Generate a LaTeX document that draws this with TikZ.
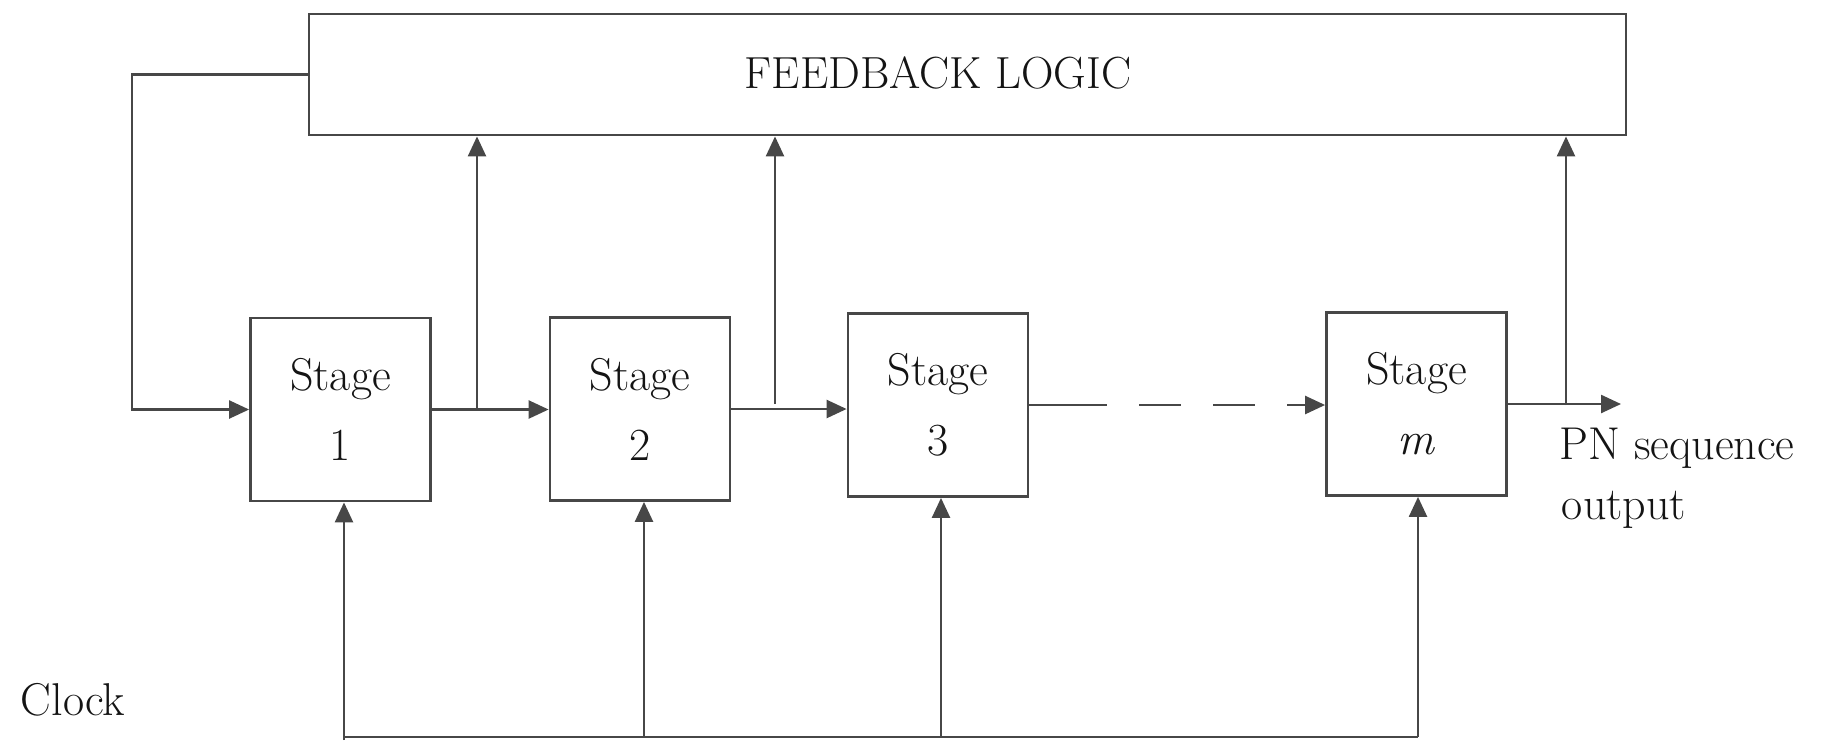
\documentclass[tikz,border=0pt]{standalone}
\usetikzlibrary{arrows.meta,calc}
\definecolor{ln}{gray}{0.28}
\definecolor{tx}{gray}{0.08}
\begin{document}
\begin{tikzpicture}[x=1pt,y=-1pt,
  box/.style={draw=ln,line width=2.8pt,fill=white,inner sep=0pt},
  stagebox/.style={box,minimum width=180pt,minimum height=183pt,align=center,
    text=tx,font=\fontsize{46}{70}\selectfont},
  conn/.style={draw=ln,line width=2.4pt},
  arr/.style={conn,-{Triangle[length=20pt,width=18pt]}},
  lbl/.style={inner sep=0pt,text=tx,font=\fontsize{46}{55}\selectfont}]
\useasboundingbox (0,0) rectangle (1827,740);
\fill[white] (0,0) rectangle (1827,740);
% feedback logic
\node[box,minimum width=1317pt,minimum height=121pt] (fb) at (967.5,74.5) {};
\node[lbl,font=\fontsize{45}{55}\selectfont] (fbt) at (938,73) {FEEDBACK LOGIC};
% stages
\node[stagebox] (s1) at (340.5,409.5) {Stage\\1};
\node[stagebox] (s2) at (640,409) {Stage\\2};
\node[stagebox] (s3) at (938,405) {Stage\\3};
\node[stagebox] (sm) at (1416.5,404) {Stage\\\textit{m}};
% labels
\node[lbl] (pn) at (1677,448) {PN sequence};
\node[lbl] (op) at (1624,510) {output};
\node[lbl] (ck) at (73,700) {Clock};
% coordinates
\coordinate (fbl) at (132,77);
\coordinate (t1) at (477,410);
\coordinate (t2) at (775,404);
\coordinate (t4) at (1566,405);
\coordinate (out) at (1621,405);
\coordinate (c0) at (344,740);
\coordinate (c1) at (344,737);
\coordinate (c2) at (644,737);
\coordinate (c3) at (941,737);
\coordinate (c4) at (1418,737);
% feedback loop
\draw[arr] (fb.west) -- (fb.west -| fbl) |- (s1.west);
% chain
\draw[arr] (s1.east) -- (s1.east -| s2.west);
\draw[arr] (s2.east) -- (s2.east -| s3.west);
\draw[arr,dash pattern=on 78pt off 32pt on 42pt off 32pt on 42pt off 32pt] (s3.east) -- (s3.east -| sm.west);
\draw[arr] (sm.east) -- (sm.east -| out);
% taps to feedback logic
\draw[arr] (t1) -- (t1 |- fb.south);
\draw[arr] (t2) -- (t2 |- fb.south);
\draw[arr] (t4) -- (t4 |- fb.south);
% clock
\draw[conn] (c1) -- (c4);
\draw[arr] (c0) -- (c0 |- s1.south);
\draw[arr] (c2) -- (c2 |- s2.south);
\draw[arr] (c3) -- (c3 |- s3.south);
\draw[arr] (c4) -- (c4 |- sm.south);
\end{tikzpicture}
\end{document}
